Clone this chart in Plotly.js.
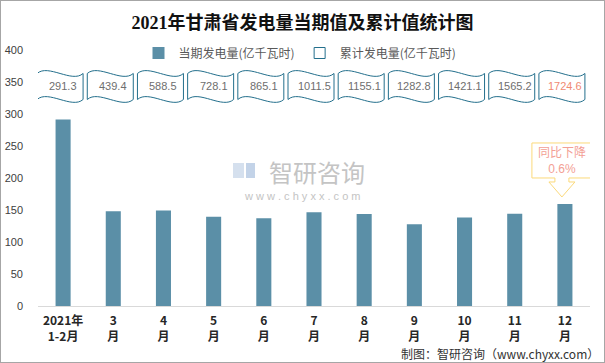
<!DOCTYPE html>
<html>
<head>
<meta charset="utf-8">
<script src="https://cdn.plot.ly/plotly-3.0.1.min.js"></script>
<style>
  html, body { margin: 0; padding: 0; background: #fff; }
  #wrap { position: relative; width: 605px; height: 363px; }
  #chart { width: 605px; height: 363px; }
  #frame { position: absolute; left: 0; top: 0; width: 603px; height: 361px; border: 1px solid #a6a6a6; pointer-events: none; }
</style>
</head>
<body>
<div id="wrap"><div id="chart"></div><div id="frame"></div></div>
<script>
// ---- data ----
const categories = ['2021年<br>1-2月', '3<br>月', '4<br>月', '5<br>月', '6<br>月', '7<br>月', '8<br>月', '9<br>月', '10<br>月', '11<br>月', '12<br>月'];
const currentValues = [291.3, 148.1, 149.1, 139.6, 137.0, 146.4, 143.6, 127.7, 138.3, 144.1, 159.4];
const cumulativeValues = [291.3, 439.4, 588.5, 728.1, 865.1, 1011.5, 1155.1, 1282.8, 1421.1, 1565.2, 1724.6];
const cumulativeLabels = ['291.3', '439.4', '588.5', '728.1', '865.1', '1011.5', '1155.1', '1282.8', '1421.1', '1565.2', '1724.6'];
const yTicks = [0, 50, 100, 150, 200, 250, 300, 350, 400];
const seriesNames = ['当期发电量(亿千瓦时)', '累计发电量(亿千瓦时)'];
const calloutText = ['同比下降', '0.6%'];
const titleText = '2021年甘肃省发电量当期值及累计值统计图';
const sourceText = '制图：智研咨询（www.chyxx.com）';

// ---- styles ----
const BAR_COLOR = '#5b8fa7';
const WAVE_COLOR = '#236f8c';
const TEXT_GRAY = '#595959';
const LABEL_Y = 343;          // vertical level of the cumulative-value flags (data units)
const FONT = '"Liberation Sans", "Noto Sans CJK SC", sans-serif';

const xIdx = categories.map((_, i) => i);
const last = categories.length - 1;

const traces = [
  {
    type: 'bar',
    x: xIdx,
    y: currentValues,
    name: seriesNames[0],
    marker: { color: BAR_COLOR },
    hoverinfo: 'x+y'
  },
  {
    type: 'scatter',
    mode: 'markers',
    x: [null],
    y: [null],
    name: seriesNames[1],
    marker: { symbol: 'square-open', size: 11, color: WAVE_COLOR, line: { width: 1, color: WAVE_COLOR } }
  }
];

const shapes = [];
const annotations = [];

// wave flags holding the cumulative values
xIdx.forEach((xi, i) => {
  shapes.push({
    type: 'path',
    xref: 'x', yref: 'y',
    xsizemode: 'pixel', ysizemode: 'pixel',
    xanchor: xi, yanchor: LABEL_Y,
    path: 'M -26,13 C -15,23 9,3 20,13 L 20,-13 C 9,-23 -15,-3 -26,-13 Z',
    line: { color: WAVE_COLOR, width: 1 },
    fillcolor: '#ffffff',
    layer: 'above'
  });
  annotations.push({
    x: xi, y: LABEL_Y, xref: 'x', yref: 'y',
    text: cumulativeLabels[i],
    showarrow: false,
    font: { family: FONT, size: 11, color: i === last ? '#f08a73' : '#6e6e6e' }
  });
});

// callout above the last bar
shapes.push({
  type: 'path',
  xref: 'x', yref: 'y',
  xsizemode: 'pixel', ysizemode: 'pixel',
  xanchor: last, yanchor: currentValues[last],
  path: 'M -33,61 L 28,61 L 28,26 L 4,26 L 4,22 L 10,22 L -3,7 L -16,22 L -10,22 L -10,26 L -33,26 Z',
  line: { color: '#fbd97a', width: 1 },
  fillcolor: '#ffffff',
  layer: 'above'
});
annotations.push({
  x: last, y: currentValues[last], xref: 'x', yref: 'y',
  text: calloutText.join('<br>'),
  showarrow: false,
  xshift: -3, yshift: 43,
  font: { family: FONT, size: 12, color: '#f3a095' }
});

// watermark
shapes.push({
  type: 'rect', xref: 'paper', yref: 'paper',
  x0: (233 - 38) / 552, x1: (244 - 38) / 552, y0: (306 - 178) / 256, y1: (306 - 163) / 256,
  fillcolor: '#d5e0ee', line: { width: 0 }, layer: 'below'
});
shapes.push({
  type: 'rect', xref: 'paper', yref: 'paper',
  x0: (246 - 38) / 552, x1: (255 - 38) / 552, y0: (306 - 178) / 256, y1: (306 - 163) / 256,
  fillcolor: '#c3d3e8', line: { width: 0 }, layer: 'below'
});
annotations.push({
  xref: 'paper', yref: 'paper', x: (317 - 38) / 552, y: (306 - 171) / 256,
  text: '智研咨询', showarrow: false,
  font: { family: '"Noto Sans CJK SC", sans-serif', size: 24, color: '#c4c4c4' }
});
annotations.push({
  xref: 'paper', yref: 'paper', x: (302 - 38) / 552, y: (306 - 196) / 256,
  text: 'w w w . c h y x x . c o m', showarrow: false,
  font: { family: FONT, size: 11, color: '#c4c4c4' }
});

// source line
annotations.push({
  xref: 'paper', yref: 'paper', x: (601 - 38) / 552, y: (306 - 353) / 256,
  xanchor: 'right', yanchor: 'middle',
  text: sourceText, showarrow: false,
  font: { family: '"Noto Sans CJK SC", sans-serif', size: 12, color: '#333333' }
});

const layout = {
  width: 605, height: 363,
  margin: { l: 38, r: 15, t: 50, b: 57 },
  paper_bgcolor: '#ffffff',
  plot_bgcolor: '#ffffff',
  font: { family: FONT, color: TEXT_GRAY, size: 11 },
  title: {
    text: '<b>' + titleText + '</b>',
    xref: 'container', yref: 'container',
    x: 0.5, xanchor: 'center', y: 1 - 23 / 363, yanchor: 'middle',
    font: { family: '"Liberation Serif", "Noto Sans CJK SC", serif', size: 18, color: '#111111' }
  },
  showlegend: true,
  legend: {
    orientation: 'h',
    x: (300 - 38) / 552, xanchor: 'center',
    y: (306 - 53) / 256, yanchor: 'middle',
    font: { family: '"Noto Sans CJK SC", sans-serif', size: 12, color: TEXT_GRAY },
    bgcolor: 'rgba(0,0,0,0)',
    itemwidth: 30
  },
  bargap: 0.7,
  xaxis: {
    type: 'linear',
    range: [-0.5, categories.length - 0.5],
    tickvals: xIdx,
    ticktext: categories,
    showgrid: false,
    zeroline: false,
    showline: true,
    linecolor: '#d9d9d9',
    linewidth: 1,
    ticks: '',
    ticklabelstandoff: 4,
    tickfont: { family: '"Noto Sans CJK SC", sans-serif', size: 12, color: '#262626', weight: 'bold' },
    fixedrange: true
  },
  yaxis: {
    range: [0, 400],
    tickvals: yTicks,
    ticktext: yTicks.map(String),
    showgrid: false,
    zeroline: false,
    showline: false,
    ticks: '',
    ticklabelstandoff: 14,
    tickfont: { family: FONT, size: 11, color: '#404040' },
    fixedrange: true
  },
  shapes: shapes,
  annotations: annotations
};

Plotly.newPlot('chart', traces, layout, { displayModeBar: false, staticPlot: true });
</script>
</body>
</html>
